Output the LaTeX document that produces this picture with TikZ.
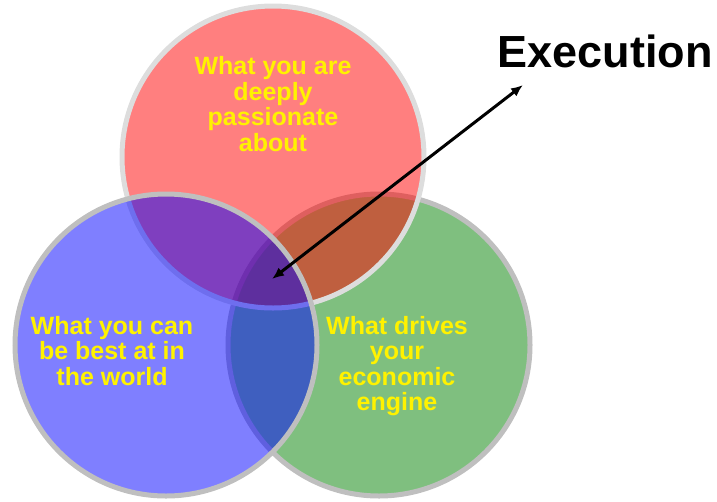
\documentclass[tikz,border=0pt]{standalone}
\usepackage{fontspec}
\setmainfont{Liberation Sans}
\usetikzlibrary{shapes, positioning, arrows.meta}

\begin{document}
\begin{tikzpicture}[<->, >={Latex[length=12pt, width=10pt]}, x=1pt, y=-1pt]
\tikzstyle{venn}=[circle, minimum size=302pt, inner sep=0pt, line width=5pt, fill opacity=0.5, draw=gray!50]
\tikzstyle{txt}=[text=yellow, font=\bfseries\fontsize{25}{25.5}\selectfont, align=center, inner sep=0pt]

\useasboundingbox (0,0) rectangle (717,501);

\node[venn, fill=green!50!black]    	(G) at (379,345)   {};
\node[venn, fill=red, draw=gray!27]    	(R) at (273,157)   {};
\node[venn, fill=blue]    		(B) at (166,345)   {};

\node[txt]    	(r) at (273,104)   {What you are\\deeply\\passionate\\about};
\node[txt]    	(b) at (112,351)   {What you can\\be best at in\\the world};
\node[txt]    	(g) at (397,366)   {What drives\\your\\economic\\engine};

\node[font=\bfseries\fontsize{45}{54}\selectfont, anchor=base, inner sep=0pt]    (E) at (605,67)   {Execution};

\coordinate    (T) at (523,85);
\coordinate    (M) at (272,279);

\path
(T) edge[line width=3pt]     	node{}    	(M);

\end{tikzpicture}
\end{document}
